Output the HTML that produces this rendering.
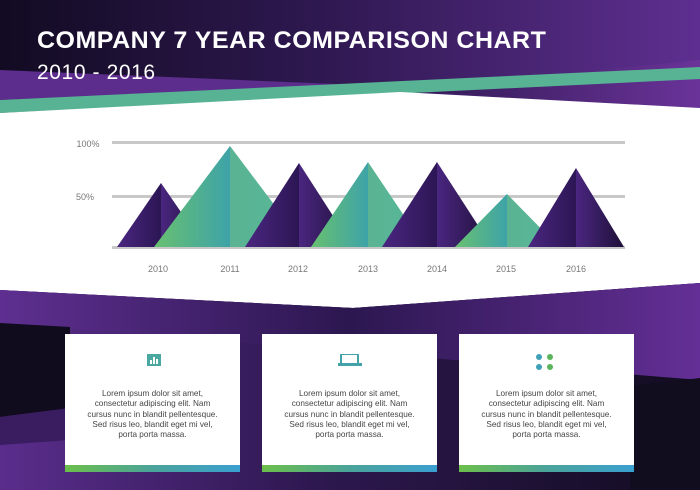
<!DOCTYPE html>
<html><head><meta charset="utf-8"><style>
body{margin:0;width:700px;height:490px;overflow:hidden;font-family:"Liberation Sans",sans-serif}
.t{position:absolute;color:#fff;white-space:nowrap}
.card{position:absolute;top:334px;width:175px;height:138px;background:#fff}
.card .bar{position:absolute;left:0;right:0;bottom:0;height:7px;background:linear-gradient(90deg,#6cbf4a,#4aa39a,#3aa0d0)}
.card p{position:absolute;top:55px;left:0;right:0;margin:0;text-align:center;font-size:8.2px;line-height:10.3px;color:#444}
</style></head><body>
<svg width="700" height="490" style="position:absolute;left:0;top:0">
<defs>
<linearGradient id="top" x1="0" x2="1"><stop offset="0" stop-color="#120b22"/><stop offset="0.45" stop-color="#2e1850"/><stop offset="1" stop-color="#5e2f90"/></linearGradient>
<linearGradient id="pl" x1="0" x2="1"><stop offset="0" stop-color="#5c2d8c"/><stop offset="1" stop-color="#3a1f62"/></linearGradient>
<linearGradient id="pr" x1="0" x2="1"><stop offset="0" stop-color="#2e1850"/><stop offset="1" stop-color="#6a3399"/></linearGradient>
<linearGradient id="mid" x1="0" x2="1"><stop offset="0" stop-color="#5e2f90"/><stop offset="0.5" stop-color="#2c1750"/><stop offset="1" stop-color="#642f96"/></linearGradient>
<linearGradient id="bot" x1="0" x2="1"><stop offset="0" stop-color="#5a2d8c"/><stop offset="0.45" stop-color="#2e1850"/><stop offset="1" stop-color="#120c20"/></linearGradient>
<linearGradient id="g" x1="0" x2="1"><stop offset="0" stop-color="#68c070"/><stop offset="0.5" stop-color="#3ea3a8"/><stop offset="0.5" stop-color="#5ab493"/><stop offset="1" stop-color="#56b69a"/></linearGradient>
<linearGradient id="p" x1="0" x2="1"><stop offset="0" stop-color="#4a2680"/><stop offset="0.5" stop-color="#2c1654"/><stop offset="0.5" stop-color="#4a2680"/><stop offset="1" stop-color="#1e1038"/></linearGradient>
</defs>
<rect width="700" height="490" fill="url(#top)"/>
<polygon points="0,70 360,85 0,100" fill="#5c2d8c"/>
<polygon points="400,90 700,60 700,110" fill="url(#pr)"/>
<polygon points="0,100 700,67 700,79 0,113" fill="#57b394"/>
<polygon points="0,113 400,92 700,108 700,283 353,308 0,290" fill="#fff"/>
<!-- bottom -->
<polygon points="0,290 353,308 700,283 700,490 0,490" fill="url(#bot)"/>
<polygon points="0,290 353,308 700,283 700,380 0,323" fill="url(#mid)"/>
<polygon points="0,323 70,327 70,408 0,417" fill="#100b1d"/>
<polygon points="0,417 70,408 70,440 0,445" fill="#3a1d60"/>
<polygon points="630,386 700,378 700,490 630,490" fill="#110c1e"/>
<!-- grid -->
<rect x="112" y="141" width="513" height="3" fill="#c8c8c8"/>
<rect x="112" y="195" width="513" height="3" fill="#c8c8c8"/>
<rect x="112" y="246" width="513" height="3" fill="#c8c8c8"/>
<polygon points="117,247 161,183 205,247" fill="url(#p)"/>
<polygon points="154,247 230,146 306,247" fill="url(#g)"/>
<polygon points="245,247 299,163 353,247" fill="url(#p)"/>
<polygon points="311,247 368,162 425,247" fill="url(#g)"/>
<polygon points="382,247 437,162 492,247" fill="url(#p)"/>
<polygon points="455,247 507,194 559,247" fill="url(#g)"/>
<polygon points="528,247 576,168 624,247" fill="url(#p)"/>
<g font-size="9" fill="#777" font-family="Liberation Sans,sans-serif" text-anchor="middle">
<text x="88" y="147">100%</text><text x="85" y="200">50%</text>
<text x="158" y="272">2010</text><text x="230" y="272">2011</text><text x="298" y="272">2012</text><text x="368" y="272">2013</text><text x="437" y="272">2014</text><text x="506" y="272">2015</text><text x="576" y="272">2016</text>
</g>
</svg>
<div class="t" style="left:37px;top:27px;font-size:24px;font-weight:bold;letter-spacing:0.5px;transform:scaleX(1.04);transform-origin:left">COMPANY 7 YEAR COMPARISON CHART</div>
<div class="t" style="left:37px;top:61px;font-size:21px;letter-spacing:0.6px">2010 - 2016</div>
<div class="card" style="left:65px"><svg width="14" height="12" style="position:absolute;left:82px;top:20px"><rect width="14" height="12" fill="#4aa8a0"/><rect x="3" y="6" width="2" height="4" fill="#fff"/><rect x="6" y="3" width="2" height="7" fill="#fff"/><rect x="9" y="5" width="2" height="5" fill="#fff"/></svg><p>Lorem ipsum dolor sit amet,<br>consectetur adipiscing elit. Nam<br>cursus nunc in blandit pellentesque.<br>Sed risus leo, blandit eget mi vel,<br>porta porta massa.</p><div class="bar"></div></div>
<div class="card" style="left:262px"><svg width="24" height="12" style="position:absolute;left:76px;top:20px"><rect x="3" y="0" width="17" height="10" fill="none" stroke="#44a3a8" stroke-width="2"/><rect x="0" y="9" width="24" height="3" fill="#44a3a8"/></svg><p>Lorem ipsum dolor sit amet,<br>consectetur adipiscing elit. Nam<br>cursus nunc in blandit pellentesque.<br>Sed risus leo, blandit eget mi vel,<br>porta porta massa.</p><div class="bar"></div></div>
<div class="card" style="left:459px"><svg width="20" height="20" style="position:absolute;left:76px;top:18px"><circle cx="4" cy="5" r="3" fill="#3fa0b8"/><circle cx="15" cy="5" r="3" fill="#5ab45c"/><circle cx="4" cy="15" r="3" fill="#3fa0b8"/><circle cx="15" cy="15" r="3" fill="#5ab45c"/></svg><p>Lorem ipsum dolor sit amet,<br>consectetur adipiscing elit. Nam<br>cursus nunc in blandit pellentesque.<br>Sed risus leo, blandit eget mi vel,<br>porta porta massa.</p><div class="bar"></div></div>
</body></html>
